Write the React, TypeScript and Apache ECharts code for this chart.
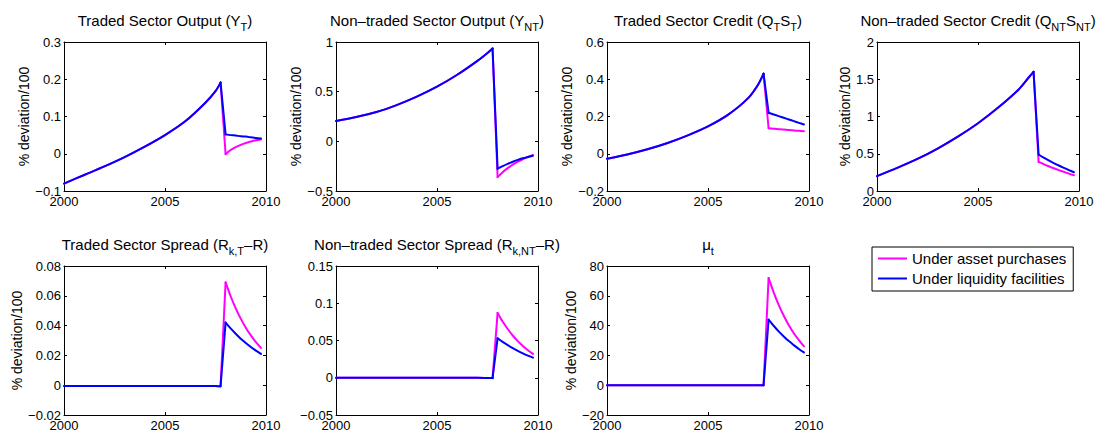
import React, { useEffect, useRef } from 'react';
import * as echarts from 'echarts';

// ---------------- data ----------------
const DATES = [2000, 2001, 2002, 2003, 2004, 2005, 2006, 2007, 2007.5, 2007.75,
  2008, 2008.25, 2008.5, 2008.75, 2009, 2009.25, 2009.5, 2009.75];
// index of the last pre-crisis date (the peak) and of the first post-crisis date
const PEAK_INDEX = 9;
const JUMP_INDEX = 10;

const SERIES_NAMES = ['Under asset purchases', 'Under liquidity facilities'];

const yT_asset = [-0.080, -0.057, -0.034, -0.009, 0.019, 0.050, 0.087, 0.137, 0.168, 0.191,
  -0.001, 0.010, 0.018, 0.024, 0.029, 0.033, 0.036, 0.038];
const yT_liq = [-0.080, -0.057, -0.034, -0.009, 0.019, 0.050, 0.087, 0.137, 0.168, 0.191,
  0.052, 0.050, 0.049, 0.047, 0.046, 0.044, 0.042, 0.041];

const yNT_asset = [0.205, 0.245, 0.295, 0.365, 0.45, 0.55, 0.67, 0.81, 0.89, 0.935,
  -0.36, -0.31, -0.27, -0.235, -0.205, -0.18, -0.157, -0.137];
const yNT_liq = [0.205, 0.245, 0.295, 0.365, 0.45, 0.55, 0.67, 0.81, 0.89, 0.935,
  -0.275, -0.25, -0.227, -0.206, -0.187, -0.171, -0.157, -0.145];

const qT_asset = [-0.027, -0.004, 0.024, 0.058, 0.099, 0.147, 0.210, 0.30, 0.375, 0.43,
  0.137, 0.134, 0.132, 0.130, 0.127, 0.125, 0.123, 0.121];
const qT_liq = [-0.027, -0.004, 0.024, 0.058, 0.099, 0.147, 0.210, 0.30, 0.375, 0.43,
  0.22, 0.211, 0.202, 0.193, 0.184, 0.175, 0.166, 0.157];

const qNT_asset = [0.2, 0.31, 0.43, 0.57, 0.73, 0.91, 1.12, 1.36, 1.52, 1.60,
  0.39, 0.36, 0.332, 0.305, 0.28, 0.256, 0.233, 0.212];
const qNT_liq = [0.2, 0.31, 0.43, 0.57, 0.73, 0.91, 1.12, 1.36, 1.52, 1.60,
  0.49, 0.448, 0.41, 0.375, 0.342, 0.311, 0.281, 0.252];

const sprT_asset = [-0.0005, -0.0005, -0.0005, -0.0005, -0.0005, -0.0005, -0.0005, -0.0005, -0.0006, -0.0007,
  0.069, 0.0597, 0.0516, 0.0447, 0.0386, 0.0334, 0.0289, 0.025];
const sprT_liq = [-0.0005, -0.0005, -0.0005, -0.0005, -0.0005, -0.0005, -0.0005, -0.0005, -0.0006, -0.0007,
  0.042, 0.0381, 0.0345, 0.0312, 0.0283, 0.0256, 0.0232, 0.021];

const sprNT_asset = [0, 0, 0, 0, 0, 0, 0, 0, -0.0003, -0.0005,
  0.087, 0.0754, 0.0654, 0.0567, 0.0491, 0.0426, 0.0369, 0.032];
const sprNT_liq = [0, 0, 0, 0, 0, 0, 0, 0, -0.0003, -0.0005,
  0.053, 0.0481, 0.0437, 0.0397, 0.036, 0.0327, 0.0297, 0.027];

const mu_asset = [0, 0, 0, 0, 0, 0, 0, 0, 0, 0,
  72, 62.3, 53.9, 46.6, 40.3, 34.9, 30.2, 26];
const mu_liq = [0, 0, 0, 0, 0, 0, 0, 0, 0, 0,
  44, 39.9, 36.1, 32.7, 29.6, 26.9, 24.3, 22];

const TITLES = [
  'Traded Sector Output (Y{s|T})',
  'Non\u2013traded Sector Output (Y{s|NT})',
  'Traded Sector Credit (Q{s|T}S{s|T})',
  'Non\u2013traded Sector Credit (Q{s|NT}S{s|NT})',
  'Traded Sector Spread (R{s|k,T}\u2013R)',
  'Non\u2013traded Sector Spread (R{s|k,NT}\u2013R)',
  '\u03bc{s|t}',
];

const Y_MIN = [-0.1, -0.5, -0.2, 0, -0.02, -0.05, -20];
const Y_MAX = [0.3, 1, 0.6, 2, 0.08, 0.15, 80];
const Y_STEP = [0.1, 0.5, 0.2, 0.5, 0.02, 0.05, 20];
const Y_NAME = ['% deviation/100', '% deviation/100', '% deviation/100', '% deviation/100',
  '% deviation/100', '', '% deviation/100'];
const X_MIN = 2000;
const X_MAX = 2010;
const X_STEP = 5;

const PANELS = [
  [yT_asset, yT_liq],
  [yNT_asset, yNT_liq],
  [qT_asset, qT_liq],
  [qNT_asset, qNT_liq],
  [sprT_asset, sprT_liq],
  [sprNT_asset, sprNT_liq],
  [mu_asset, mu_liq],
];

const COLORS = ['#ff00ff', '#0000ff'];

// ---------------- layout ----------------
const FONT = '"Liberation Sans", Arial, Helvetica, sans-serif';
const LEFTS = [64, 336, 607, 877, 64, 336, 607];
const TOPS = [42, 42, 42, 42, 266, 266, 266];
const W = 202;
const H = 149;
const NAME_GAP = [29, 31, 29, 22, 38, 30, 26];

const fmt = (v: number) => String(Number(v.toFixed(6))).replace('-', '\u2212');

export default function App() {
  const ref = useRef<HTMLDivElement>(null);
  useEffect(() => {
    if (!ref.current) return;
    const chart = echarts.init(ref.current, undefined, { renderer: 'svg' });
    const grids: any[] = [];
    const xAxes: any[] = [];
    const yAxes: any[] = [];
    const series: any[] = [];
    const graphics: any[] = [];
    const lineCol = { color: '#000', width: 1 };
    PANELS.forEach((pair, i) => {
      grids.push({ left: LEFTS[i], top: TOPS[i], width: W, height: H, containLabel: false });
      const xBase = {
        gridIndex: i, type: 'value', min: X_MIN, max: X_MAX, interval: X_STEP,
        splitLine: { show: false },
        axisLine: { show: true, onZero: false, lineStyle: lineCol },
        axisTick: { show: true, inside: true, length: 3, lineStyle: lineCol },
      };
      xAxes.push({
        ...xBase, position: 'bottom',
        axisLabel: { show: true, fontSize: 13, fontFamily: FONT, color: '#000', margin: 4,
          formatter: (v: number) => String(v) },
      });
      xAxes.push({ ...xBase, position: 'top', axisLabel: { show: false } });
      const yBase = {
        gridIndex: i, type: 'value', min: Y_MIN[i], max: Y_MAX[i], interval: Y_STEP[i],
        splitLine: { show: false },
        axisLine: { show: true, onZero: false, lineStyle: lineCol },
        axisTick: { show: true, inside: true, length: 3, lineStyle: lineCol },
      };
      yAxes.push({
        ...yBase, position: 'left',
        name: Y_NAME[i], nameLocation: 'middle', nameGap: NAME_GAP[i],
        nameTextStyle: { fontSize: 14, fontFamily: FONT, color: '#000' },
        axisLabel: { show: true, fontSize: 13, fontFamily: FONT, color: '#000', margin: 3, formatter: fmt },
      });
      yAxes.push({ ...yBase, position: 'right', axisLabel: { show: false } });
      pair.forEach((vals, k) => {
        const pts = DATES.map((d, j) => [d, vals[j]]);
        const parts = [
          { data: pts.slice(0, PEAK_INDEX + 1), smooth: 0.3 },
          { data: pts.slice(PEAK_INDEX, JUMP_INDEX + 1), smooth: false },
          { data: pts.slice(JUMP_INDEX), smooth: 0.3 },
        ];
        parts.forEach((p) => {
          series.push({
            name: SERIES_NAMES[k],
            type: 'line',
            xAxisIndex: 2 * i,
            yAxisIndex: 2 * i,
            data: p.data,
            smooth: p.smooth,
            symbol: 'none',
            color: COLORS[k],
            itemStyle: { color: COLORS[k] },
            lineStyle: { color: COLORS[k], width: 2, cap: 'round', join: 'round' },
            z: 2 + k,
          });
        });
      });
      graphics.push({
        type: 'text',
        x: LEFTS[i] + W / 2,
        y: i < 4 ? 20 : 244,
        style: {
          text: TITLES[i],
          align: 'center',
          verticalAlign: 'middle',
          fontSize: 15,
          fontFamily: FONT,
          fill: '#000',
          lineHeight: 18,
          rich: {
            s: { fontSize: 11, fontFamily: FONT, fill: '#000', padding: [13, 0, 0, 0], lineHeight: 18 },
          },
        },
      });
    });
    chart.setOption({
      animation: false,
      backgroundColor: '#fff',
      grid: grids,
      xAxis: xAxes,
      yAxis: yAxes,
      series,
      graphic: graphics,
      legend: {
        data: SERIES_NAMES,
        orient: 'vertical',
        left: 872,
        top: 247,
        padding: [4, 7, 5, 6],
        itemGap: 5,
        itemWidth: 29,
        itemHeight: 2,
        icon: 'rect',
        borderColor: '#000',
        borderWidth: 1,
        borderRadius: 0,
        backgroundColor: '#fff',
        selectedMode: false,
        textStyle: { fontSize: 15, fontFamily: FONT, color: '#000', lineHeight: 15 },
      },
    });
    return () => chart.dispose();
  }, []);
  return (
    <div
      ref={ref}
      style={{ position: 'fixed', left: 0, top: 0, width: 1100, height: 432, background: '#fff' }}
    />
  );
}
